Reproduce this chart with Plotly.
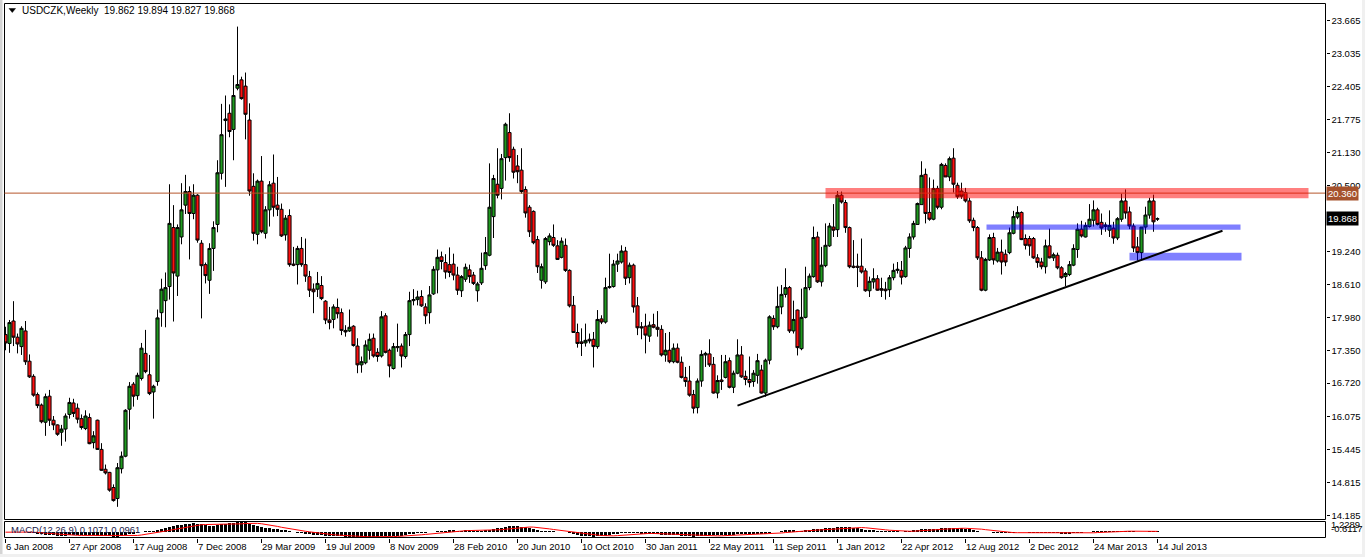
import pandas as pd
import plotly.graph_objects as go

W, H = 1365, 557
START = "2008-01-06"
N_WEEKS = 289
dates = pd.date_range(START, periods=N_WEEKS, freq="7D")

open_ = [
    17.65, 17.48, 17.91, 17.60, 17.42, 17.72, 17.14, 16.85, 16.50, 16.30,
    15.97, 16.47, 16.01, 15.92, 15.78, 15.84, 16.12, 16.34, 16.24, 16.04,
    15.85, 16.06, 15.58, 16.01, 15.45, 15.07, 15.01, 14.72, 14.51, 15.08,
    15.32, 16.22, 16.70, 16.48, 16.81, 17.29, 16.88, 16.55, 16.75, 18.07,
    18.30, 18.57, 19.70, 18.77, 19.52, 20.13, 20.39, 19.97, 20.32, 19.40,
    18.99, 18.69, 19.30, 19.76, 20.74, 21.75, 21.89, 21.58, 22.37, 22.53,
    22.41, 21.76, 20.49, 19.57, 20.59, 19.59, 20.04, 20.55, 20.13, 20.05,
    19.56, 19.93, 19.00, 18.99, 19.30, 18.99, 18.76, 18.52, 18.52, 18.59,
    18.29, 17.93, 17.94, 18.17, 18.07, 17.73, 17.72, 17.81, 17.43, 17.07,
    17.11, 17.35, 17.58, 17.31, 17.24, 18.01, 17.35, 17.00, 17.40, 17.43,
    17.23, 17.65, 18.30, 18.32, 18.38, 18.18, 18.07, 18.43, 18.89, 19.14,
    19.03, 18.99, 19.00, 18.79, 18.49, 18.71, 18.89, 18.79, 18.49, 18.64,
    18.97, 19.17, 19.91, 20.53, 20.45, 21.04, 21.52, 21.20, 20.88, 20.80,
    20.43, 20.09, 20.01, 19.47, 18.69, 18.66, 19.43, 19.51, 19.35, 19.13,
    19.36, 18.88, 18.21, 17.69, 17.51, 17.49, 17.56, 17.56, 17.42, 17.95,
    17.89, 18.55, 18.57, 19.00, 19.04, 19.25, 18.74, 18.98, 18.20, 17.80,
    17.81, 17.62, 17.84, 17.79, 17.75, 17.26, 17.35, 17.13, 17.39, 17.12,
    16.83, 16.76, 16.50, 16.25, 16.76, 17.26, 17.28, 17.08, 16.53, 16.78,
    16.83, 17.15, 16.64, 16.91, 17.26, 16.85, 16.79, 16.75, 16.87, 16.97,
    16.53, 17.16, 17.96, 17.80, 18.18, 18.42, 18.55, 17.72, 18.12, 17.38,
    17.98, 18.55, 18.76, 19.52, 18.66, 18.97, 19.35, 19.71, 19.66, 20.32,
    20.18, 19.70, 18.96, 18.96, 18.96, 18.87, 18.49, 18.66, 18.72, 18.53,
    18.52, 18.51, 18.74, 18.88, 18.88, 18.76, 19.30, 19.52, 19.76, 20.14,
    20.72, 19.99, 19.86, 20.45, 20.09, 20.89, 20.67, 21.03, 20.51, 20.40,
    20.37, 20.21, 19.84, 19.70, 19.12, 18.50, 19.08, 19.51, 19.06, 19.23,
    19.19, 19.22, 19.59, 19.90, 19.99, 19.49, 19.49, 19.49, 19.12, 19.04,
    18.95, 19.35, 19.12, 19.17, 18.93, 18.76, 18.80, 18.98, 19.28, 19.67,
    19.52, 19.72, 19.84, 20.04, 19.80, 19.72, 19.65, 19.69, 19.50, 19.86,
    20.21, 20.00, 19.73, 19.33, 19.22, 19.71, 19.94, 20.21, 19.862,
]

high_ = [
    17.80, 17.93, 18.29, 17.67, 17.81, 17.91, 17.27, 16.89, 16.54, 16.33,
    16.52, 16.59, 16.09, 15.93, 15.92, 16.14, 16.44, 16.42, 16.33, 16.12,
    16.20, 16.14, 15.80, 16.02, 15.57, 15.16, 15.02, 14.78, 15.19, 15.41,
    16.22, 16.74, 16.74, 16.92, 17.49, 17.74, 17.26, 16.69, 18.13, 18.72,
    18.84, 20.53, 20.13, 19.76, 20.55, 20.71, 20.49, 20.53, 20.34, 19.46,
    19.03, 19.40, 19.82, 20.99, 22.07, 22.23, 22.06, 22.62, 23.55, 22.59,
    22.67, 22.08, 20.74, 20.62, 21.07, 20.11, 20.59, 21.10, 20.67, 20.16,
    19.94, 20.05, 19.33, 19.35, 19.52, 19.49, 18.87, 18.63, 18.85, 18.77,
    18.31, 18.18, 18.23, 18.34, 18.15, 17.83, 18.13, 17.83, 17.58, 17.23,
    17.54, 17.67, 17.67, 17.39, 18.10, 18.06, 17.38, 17.49, 17.86, 17.48,
    17.70, 18.47, 18.52, 18.49, 18.50, 18.25, 18.58, 18.96, 19.28, 19.24,
    19.19, 19.32, 19.20, 18.95, 18.79, 19.01, 18.99, 18.85, 18.66, 19.22,
    19.52, 20.93, 20.71, 21.22, 21.11, 21.71, 21.89, 21.25, 21.09, 21.22,
    20.49, 20.13, 20.03, 19.54, 19.01, 19.52, 19.59, 19.76, 19.46, 19.51,
    19.49, 18.90, 18.39, 17.86, 17.77, 17.86, 17.67, 17.70, 18.12, 18.02,
    18.74, 19.20, 19.08, 19.20, 19.36, 19.33, 19.03, 19.01, 18.37, 17.89,
    18.05, 17.90, 18.05, 18.10, 17.83, 17.68, 17.70, 17.48, 17.48, 17.23,
    17.03, 17.05, 16.59, 16.81, 17.35, 17.32, 17.56, 17.22, 16.87, 17.26,
    17.26, 17.21, 16.96, 17.56, 17.43, 16.96, 17.23, 16.97, 17.28, 17.07,
    17.19, 18.02, 18.02, 18.57, 18.60, 18.92, 18.58, 18.30, 18.13, 18.53,
    18.95, 18.82, 19.72, 19.62, 19.33, 19.78, 19.79, 20.15, 20.40, 20.39,
    20.23, 19.72, 19.46, 19.20, 19.49, 18.92, 18.76, 18.92, 18.79, 18.74,
    18.66, 18.79, 19.01, 19.04, 19.06, 19.35, 19.59, 19.83, 20.18, 20.97,
    20.83, 20.66, 20.62, 20.50, 20.94, 20.93, 21.06, 21.22, 20.56, 20.56,
    20.46, 20.27, 19.89, 19.73, 19.25, 19.12, 19.57, 19.60, 19.31, 19.47,
    19.28, 19.70, 20.02, 20.11, 20.01, 19.57, 19.54, 19.52, 19.19, 19.12,
    19.47, 19.68, 19.22, 19.22, 18.96, 18.85, 19.06, 19.38, 19.78, 19.83,
    19.80, 20.15, 20.22, 20.08, 19.97, 19.80, 20.03, 19.81, 19.90, 20.35,
    20.43, 20.10, 19.78, 19.52, 19.71, 20.10, 20.27, 20.33, 19.894,
]

low_ = [
    17.35, 17.30, 17.43, 17.29, 17.26, 17.07, 16.82, 16.46, 16.24, 15.95,
    15.71, 15.90, 15.82, 15.71, 15.52, 15.60, 16.04, 16.07, 15.95, 15.83,
    15.82, 15.55, 15.47, 15.44, 15.04, 14.97, 14.64, 14.45, 14.35, 14.99,
    15.30, 15.83, 16.27, 16.40, 16.77, 16.91, 16.49, 16.04, 16.67, 17.80,
    17.79, 18.32, 17.90, 18.39, 19.38, 19.96, 19.09, 19.86, 19.41, 17.96,
    18.63, 18.43, 18.87, 19.61, 20.62, 20.48, 21.43, 20.99, 22.33, 22.15,
    21.39, 20.31, 19.45, 19.38, 19.59, 19.49, 19.72, 19.91, 19.92, 19.52,
    19.45, 18.95, 18.96, 18.61, 18.95, 18.66, 18.37, 18.06, 18.37, 18.31,
    17.85, 17.75, 17.77, 17.96, 17.64, 17.61, 17.70, 17.42, 16.91, 16.92,
    17.08, 17.17, 17.21, 17.13, 17.21, 17.29, 16.83, 16.98, 17.32, 17.02,
    17.19, 17.43, 18.21, 18.21, 18.18, 17.85, 17.86, 18.41, 18.44, 18.90,
    18.72, 18.75, 18.69, 18.41, 18.37, 18.66, 18.64, 18.60, 18.28, 18.60,
    18.89, 19.15, 19.50, 20.26, 20.24, 20.60, 20.96, 20.64, 20.55, 20.35,
    19.89, 19.52, 19.38, 18.83, 18.53, 18.62, 19.36, 19.33, 19.08, 19.11,
    18.85, 18.17, 17.69, 17.40, 17.24, 17.42, 17.48, 17.02, 17.38, 17.85,
    17.86, 18.53, 18.55, 18.85, 19.01, 18.60, 18.63, 18.07, 17.64, 17.56,
    17.29, 17.51, 17.77, 17.61, 17.23, 17.13, 17.10, 17.10, 17.10, 16.81,
    16.65, 16.46, 16.14, 16.14, 16.65, 17.03, 17.03, 16.52, 16.43, 16.59,
    16.81, 16.62, 16.53, 16.89, 16.82, 16.68, 16.64, 16.65, 16.71, 16.52,
    16.46, 17.08, 17.74, 17.77, 18.04, 18.36, 17.68, 17.67, 17.25, 17.35,
    17.96, 18.50, 18.74, 18.64, 18.57, 18.94, 19.33, 19.52, 19.52, 20.16,
    19.60, 18.92, 18.92, 18.56, 18.82, 18.47, 18.37, 18.53, 18.49, 18.37,
    18.32, 18.37, 18.69, 18.82, 18.61, 18.74, 19.12, 19.47, 19.75, 20.14,
    19.78, 19.83, 19.84, 20.05, 20.05, 20.67, 20.59, 20.37, 20.25, 20.25,
    20.18, 19.79, 19.63, 19.08, 18.48, 18.48, 19.06, 18.99, 19.03, 18.80,
    18.96, 19.19, 19.57, 19.86, 19.46, 19.28, 19.16, 19.10, 18.93, 18.90,
    18.82, 19.11, 19.06, 18.90, 18.72, 18.58, 18.77, 18.96, 19.12, 19.51,
    19.51, 19.70, 19.72, 19.74, 19.56, 19.62, 19.52, 19.39, 19.46, 19.81,
    19.87, 19.67, 19.23, 19.07, 19.07, 19.58, 19.87, 19.62, 19.827,
]

close_ = [
    17.49, 17.88, 17.60, 17.47, 17.77, 17.13, 16.84, 16.49, 16.29, 15.98,
    16.46, 16.01, 15.92, 15.74, 15.84, 16.09, 16.35, 16.14, 16.03, 15.87,
    16.09, 15.56, 15.71, 15.45, 15.05, 15.00, 14.67, 14.47, 15.10, 15.32,
    16.20, 16.66, 16.47, 16.87, 17.39, 16.94, 16.52, 16.66, 17.97, 18.52,
    18.55, 19.78, 18.83, 19.70, 20.04, 20.39, 19.97, 20.32, 19.46, 18.97,
    18.78, 19.30, 19.70, 20.75, 21.48, 21.78, 21.54, 22.23, 22.44, 22.17,
    21.87, 20.40, 19.59, 20.59, 19.62, 20.04, 20.52, 20.09, 20.05, 19.54,
    19.88, 18.99, 18.98, 19.30, 18.99, 18.77, 18.50, 18.47, 18.63, 18.34,
    17.93, 17.88, 18.18, 18.05, 17.73, 17.70, 17.79, 17.44, 17.07, 17.13,
    17.45, 17.56, 17.24, 17.23, 17.99, 17.31, 17.05, 17.42, 17.42, 17.24,
    17.65, 18.30, 18.32, 18.37, 18.20, 18.01, 18.41, 18.90, 19.13, 19.05,
    18.85, 18.84, 18.79, 18.50, 18.76, 18.94, 18.76, 18.63, 18.62, 18.92,
    19.22, 20.09, 20.64, 20.32, 21.02, 21.68, 21.04, 20.76, 20.77, 20.39,
    19.98, 19.62, 19.41, 18.95, 18.95, 19.49, 19.54, 19.36, 19.09, 19.44,
    18.88, 18.20, 17.69, 17.48, 17.48, 17.54, 17.53, 17.42, 17.94, 17.89,
    18.55, 18.57, 19.00, 19.06, 19.25, 18.73, 18.98, 18.18, 17.78, 17.78,
    17.64, 17.83, 17.79, 17.75, 17.26, 17.35, 17.13, 17.39, 17.12, 16.83,
    16.75, 16.49, 16.24, 16.76, 17.27, 17.29, 17.07, 16.53, 16.77, 16.75,
    17.13, 16.64, 16.91, 17.26, 16.84, 16.79, 16.73, 16.91, 17.15, 16.53,
    17.16, 17.99, 17.80, 18.19, 18.42, 18.55, 17.72, 17.94, 17.40, 17.98,
    18.55, 18.77, 19.51, 18.66, 18.98, 19.36, 19.73, 19.65, 20.32, 20.19,
    19.70, 18.95, 18.94, 18.94, 18.85, 18.49, 18.67, 18.72, 18.50, 18.50,
    18.49, 18.74, 18.88, 18.90, 18.75, 19.31, 19.52, 19.78, 20.16, 20.70,
    19.97, 19.86, 20.45, 20.09, 20.91, 20.67, 21.02, 20.53, 20.29, 20.30,
    20.21, 19.83, 19.70, 19.12, 18.50, 19.09, 19.51, 19.08, 19.23, 19.04,
    19.04, 19.60, 19.91, 19.99, 19.47, 19.36, 19.35, 19.12, 19.03, 18.95,
    19.35, 19.12, 19.18, 18.93, 18.74, 18.82, 18.99, 19.30, 19.67, 19.54,
    19.74, 19.86, 20.04, 19.76, 19.69, 19.75, 19.74, 19.50, 19.87, 20.21,
    19.98, 19.73, 19.31, 19.22, 19.71, 19.94, 20.21, 19.81, 19.868,
]

price_ticks = [23.665, 23.035, 22.405, 21.775, 21.130, 20.500, 19.240,
               18.610, 17.980, 17.350, 16.720, 16.075, 15.445, 14.815, 14.185]
date_tick_step = 16  # weeks between date labels

# drawn objects (weeks from first bar / prices)
level_line = 20.360
last_price = 19.868
red_zone_weeks = [205.0, 325.75]
red_zone_prices = [20.26, 20.46]
blue_zone1_weeks = [245.25, 308.75]
blue_zone1_prices = [19.66, 19.76]
blue_zone2_weeks = [281.0, 309.0]
blue_zone2_prices = [19.07, 19.22]
trend_weeks = [183.0, 304.25]
trend_prices = [16.29, 19.64]

title_text = "USDCZK,Weekly\u00a0\u00a019.862 19.894 19.827 19.868"
macd_text = "MACD(12,26,9) 0.1071 0.0961"

FONT = "Liberation Sans"
FS = 9.5

t0 = pd.Timestamp(START)
def wk(w):
    return t0 + pd.Timedelta(days=7 * w)

def px(x):
    return x / W

def py(y):
    return 1 - y / H

# MACD indicator derived from the closes
s = pd.Series(close_)
macd = s.ewm(span=12, adjust=False).mean() - s.ewm(span=26, adjust=False).mean()
signal = macd.rolling(9, min_periods=1).mean()
m_lo, m_hi = float(macd.min()), float(macd.max())

fig = go.Figure()
fig.add_trace(go.Candlestick(
    x=dates, open=open_, high=high_, low=low_, close=close_,
    increasing=dict(line=dict(color="black", width=1), fillcolor="#1f9a1f"),
    decreasing=dict(line=dict(color="black", width=1), fillcolor="#ff1010"),
    whiskerwidth=0, xaxis="x", yaxis="y", showlegend=False, hoverinfo="skip"))
fig.add_trace(go.Bar(
    x=dates, y=macd, marker=dict(color="black", line=dict(width=0)),
    width=7 * 86400000 * 0.55, xaxis="x", yaxis="y2", showlegend=False,
    hoverinfo="skip"))
fig.add_trace(go.Scatter(
    x=dates, y=signal, mode="lines", line=dict(color="#ff0000", width=1),
    xaxis="x", yaxis="y2", showlegend=False, hoverinfo="skip"))

ppu = 52.2
def price_at(ypx):
    return 23.665 - (ypx - 20.6) / ppu

shapes = []
# main and indicator frames
shapes.append(dict(type="rect", xref="paper", yref="paper", x0=px(4.5), x1=px(1325.5),
                   y0=py(519.5), y1=py(3.5), line=dict(color="black", width=1)))
shapes.append(dict(type="rect", xref="paper", yref="paper", x0=px(4.5), x1=px(1325.5),
                   y0=py(537.5), y1=py(521.5), line=dict(color="black", width=1)))
# window edges
shapes.append(dict(type="rect", xref="paper", yref="paper", x0=0, x1=px(2.5), y0=0, y1=1,
                   fillcolor="#d4d4d4", line=dict(width=0), layer="below"))
shapes.append(dict(type="rect", xref="paper", yref="paper", x0=0, x1=1, y0=0, y1=py(554),
                   fillcolor="#f0f0f0", line=dict(width=0), layer="below"))
shapes.append(dict(type="rect", xref="paper", yref="paper", x0=px(1362), x1=1, y0=0, y1=1,
                   fillcolor="#f0f0f0", line=dict(width=0), layer="below"))
# level line
shapes.append(dict(type="line", xref="paper", yref="y", x0=px(4.5), x1=px(1325),
                   y0=level_line, y1=level_line, line=dict(color="#b5562b", width=1)))
# zones
for wks, prs, col in [(red_zone_weeks, red_zone_prices, "rgba(255,0,0,0.5)"),
                      (blue_zone1_weeks, blue_zone1_prices, "rgba(0,0,255,0.5)"),
                      (blue_zone2_weeks, blue_zone2_prices, "rgba(0,0,255,0.5)")]:
    shapes.append(dict(type="rect", xref="x", yref="y", x0=wk(wks[0]), x1=wk(wks[1]),
                       y0=prs[0], y1=prs[1], fillcolor=col, line=dict(width=0), layer="above"))
# trend line
shapes.append(dict(type="line", xref="x", yref="y", x0=wk(trend_weeks[0]), x1=wk(trend_weeks[1]),
                   y0=trend_prices[0], y1=trend_prices[1], line=dict(color="black", width=2)))
# small triangle in title
shapes.append(dict(type="path", xref="paper", yref="paper",
                   path=f"M {px(9)},{py(8.5)} L {px(15.5)},{py(8.5)} L {px(12.25)},{py(12.5)} Z",
                   fillcolor="black", line=dict(color="black", width=0.5)))

annotations = [
    dict(text=title_text, xref="paper", yref="paper", x=px(19.5), y=py(10.5),
         xanchor="left", yanchor="middle", showarrow=False,
         font=dict(family=FONT, size=10, color="black")),
    dict(text=macd_text, xref="paper", yref="paper", x=px(9), y=py(529),
         xanchor="left", yanchor="middle", showarrow=False,
         font=dict(family=FONT, size=FS, color="#20204a")),
    dict(text=f"{level_line:.3f}", xref="paper", yref="y", x=px(1326), y=level_line,
         xanchor="left", yanchor="middle", showarrow=False, bgcolor="#a5522d",
         borderpad=1, font=dict(family=FONT, size=FS, color="white")),
    dict(text=f"{last_price:.3f}", xref="paper", yref="y", x=px(1326), y=last_price,
         xanchor="left", yanchor="middle", showarrow=False, bgcolor="black",
         borderpad=1, font=dict(family=FONT, size=FS, color="white")),
    dict(text=f"{m_hi:.4f}", xref="paper", yref="paper", x=px(1329), y=py(524),
         xanchor="left", yanchor="middle", showarrow=False,
         font=dict(family=FONT, size=FS, color="black")),
    dict(text=f"{m_lo:.4f}", xref="paper", yref="paper", x=px(1329), y=py(528),
         xanchor="left", yanchor="middle", showarrow=False,
         font=dict(family=FONT, size=FS, color="black")),
]

fig.update_layout(
    width=W, height=H, margin=dict(l=0, r=0, t=0, b=0),
    paper_bgcolor="white", plot_bgcolor="white",
    font=dict(family=FONT, size=FS, color="black"),
    shapes=shapes, annotations=annotations, bargap=0,
    boxgap=0.22, boxgroupgap=0,
    xaxis=dict(domain=[px(4.5), px(1325.5)], anchor="y2", type="date",
               range=[wk(-0.25), wk(330)], tickvals=list(dates[::date_tick_step]),
               tickformat="%-d %b %Y", ticks="outside", ticklen=4, tickcolor="black",
               ticklabelposition="outside right", showgrid=False, zeroline=False,
               showline=False, rangeslider=dict(visible=False),
               tickfont=dict(family=FONT, size=FS, color="black")),
    yaxis=dict(domain=[py(519.5), py(3.5)], anchor="x", side="right",
               range=[price_at(519.5), price_at(3.5)], tickvals=price_ticks,
               ticktext=[f"{v:.3f}" for v in price_ticks], ticks="outside", ticklen=3,
               tickcolor="black", showgrid=False, zeroline=False, showline=False,
               tickfont=dict(family=FONT, size=FS, color="black")),
    yaxis2=dict(domain=[py(537.5), py(521.5)], anchor="x",
                range=[m_lo * 1.05, m_hi * 1.05], showticklabels=False, ticks="",
                showgrid=False, zeroline=False, showline=False),
)

fig.write_html(
    "out.html",
    config={"displayModeBar": False, "staticPlot": True},
    post_script="document.body.style.margin='0';document.body.style.padding='0';",
)
